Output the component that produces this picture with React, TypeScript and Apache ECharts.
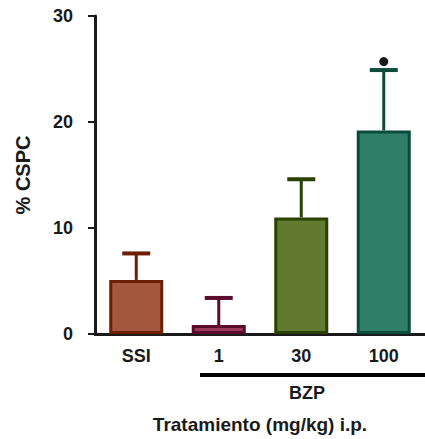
import React, { useEffect, useRef } from "react";
import * as echarts from "echarts";

const categories = ["SSI", "1", "30", "100"];
const means = [5.1, 0.85, 11.0, 19.2];
const errorTops = [7.6, 3.4, 14.6, 24.9];
const markerValue = 25.7;
const yTicks = [0, 10, 20, 30];
const fillColors = ["#A3573D", "#9C3659", "#617A2E", "#2E8069"];
const borderColors = ["#6E1F02", "#5B0B2C", "#2B4102", "#0B4B39"];

export default function App() {
  const ref = useRef<HTMLDivElement>(null);
  useEffect(() => {
    if (!ref.current) return;
    const chart = echarts.init(ref.current, null, { renderer: "svg" });
    const font = "Liberation Sans, Arial, sans-serif";
    chart.setOption({
      animation: false,
      grid: { left: 95, right: -10, top: 16, bottom: 105, containLabel: false },
      xAxis: {
        type: "category",
        data: categories,
        axisLine: { lineStyle: { color: "#1a1a1a", width: 3 } },
        axisTick: { alignWithLabel: true, length: 8, lineStyle: { color: "#1a1a1a", width: 2 } },
        axisLabel: { color: "#1a1a1a", fontSize: 18, fontWeight: "bold", fontFamily: font, margin: 13 },
        name: "Tratamiento (mg/kg) i.p.",
        nameLocation: "middle",
        nameGap: 81,
        nameTextStyle: { color: "#1a1a1a", fontSize: 19, fontWeight: "bold", fontFamily: font },
      },
      yAxis: {
        type: "value",
        min: yTicks[0],
        max: yTicks[yTicks.length - 1],
        interval: 10,
        splitLine: { show: false },
        axisLine: { show: true, onZero: false, lineStyle: { color: "#1a1a1a", width: 3 } },
        axisTick: { show: true, length: 7, lineStyle: { color: "#1a1a1a", width: 2 } },
        axisLabel: { color: "#1a1a1a", fontSize: 18, fontWeight: "bold", fontFamily: font, margin: 22 },
        name: "% CSPC",
        nameLocation: "middle",
        nameGap: 62,
        nameTextStyle: { color: "#1a1a1a", fontSize: 20, fontWeight: "bold", fontFamily: font },
      },
      series: [
        {
          type: "bar",
          barWidth: 54,
          z: 3,
          data: means.map((v, i) => ({
            value: v,
            itemStyle: { color: fillColors[i], borderColor: borderColors[i], borderWidth: 3 },
          })),
        },
        {
          type: "custom",
          z: 2,
          data: means.map((v, i) => [i, v, errorTops[i]]),
          renderItem: (params: any, api: any) => {
            const i = api.value(0);
            const lo = api.coord([i, api.value(1)]);
            const hi = api.coord([i, api.value(2)]);
            const color = borderColors[params.dataIndex];
            const half = 14;
            return {
              type: "group",
              children: [
                { type: "line", shape: { x1: lo[0], y1: lo[1], x2: hi[0], y2: hi[1] }, style: { stroke: color, lineWidth: 3 } },
                { type: "line", shape: { x1: hi[0] - half, y1: hi[1], x2: hi[0] + half, y2: hi[1] }, style: { stroke: color, lineWidth: 4 } },
              ],
            };
          },
        },
        {
          type: "scatter",
          symbol: "circle",
          symbolSize: 9,
          itemStyle: { color: "#1a1a1a", opacity: 1 },
          data: [[categories[3], markerValue]],
        },
      ],
      graphic: [
        { type: "rect", shape: { x: 200, y: 373, width: 230, height: 4 }, style: { fill: "#000" } },
        {
          type: "text",
          x: 307,
          y: 393,
          style: { text: "BZP", fill: "#1a1a1a", fontSize: 18, fontWeight: "bold", fontFamily: font, align: "center", verticalAlign: "middle" },
        },
      ],
    });
    return () => chart.dispose();
  }, []);
  return <div ref={ref} style={{ width: 425, height: 439, position: "absolute", left: 0, top: 0 }} />;
}
